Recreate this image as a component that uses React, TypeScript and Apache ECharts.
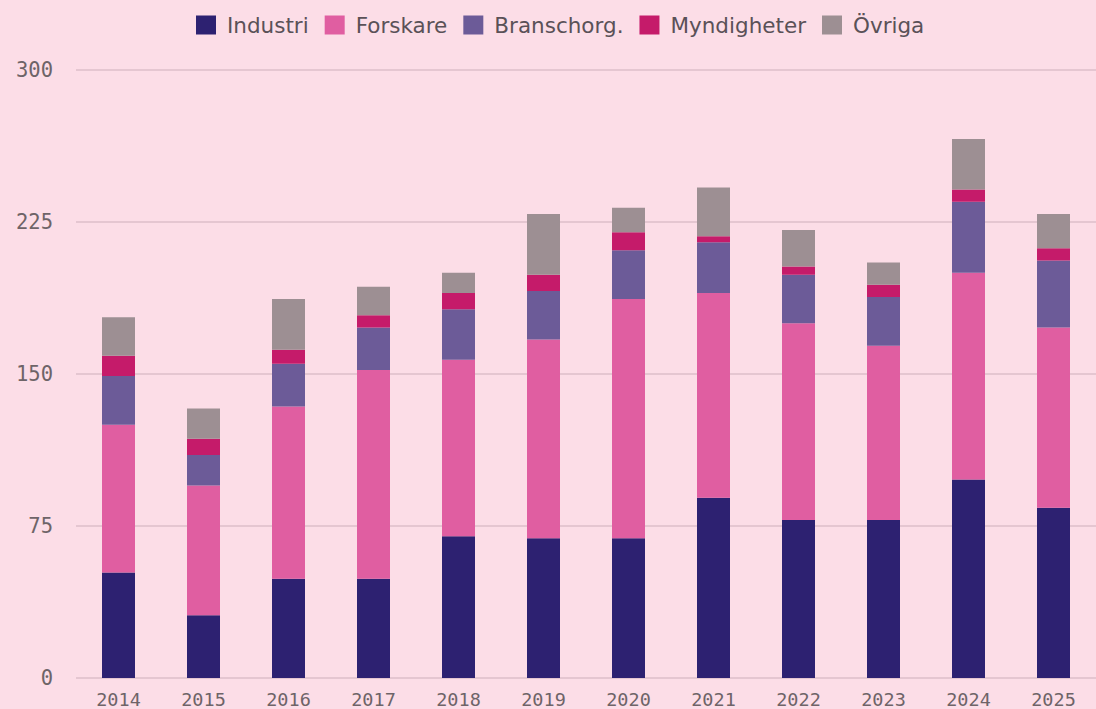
import React, { useEffect, useRef } from "react";
import * as echarts from "echarts";

const years = ["2014", "2015", "2016", "2017", "2018", "2019", "2020", "2021", "2022", "2023", "2024", "2025"];
const industri = [52, 31, 49, 49, 70, 69, 69, 89, 78, 78, 98, 84];
const forskare = [73, 64, 85, 103, 87, 98, 118, 101, 97, 86, 102, 89];
const branschorg = [24, 15, 21, 21, 25, 24, 24, 25, 24, 24, 35, 33];
const myndigheter = [10, 8, 7, 6, 8, 8, 9, 3, 4, 6, 6, 6];
const ovriga = [19, 15, 25, 14, 10, 30, 12, 24, 18, 11, 25, 17];
const yTicks = [0, 75, 150, 225, 300];

const seriesDefs = [
  { name: "Industri", data: industri, color: "#2d2171" },
  { name: "Forskare", data: forskare, color: "#e05ea1" },
  { name: "Branschorg.", data: branschorg, color: "#6c5b98" },
  { name: "Myndigheter", data: myndigheter, color: "#c51b6a" },
  { name: "Övriga", data: ovriga, color: "#9d8f93" },
];

export default function App() {
  const ref = useRef<HTMLDivElement>(null);
  useEffect(() => {
    document.body.style.margin = "0";
    const chart = echarts.init(ref.current!, null, { renderer: "svg" });
    chart.setOption({
      animation: false,
      backgroundColor: "#fcdde7",
      legend: {
        top: 9,
        left: 191,
        itemWidth: 20,
        itemHeight: 19,
        itemGap: 16,
        icon: "rect",
        textStyle: { fontFamily: "DejaVu Sans", fontSize: 21.5, color: "#5a5157", padding: [0, 0, 0, 6] },
        data: seriesDefs.map((s) => s.name),
      },
      grid: { left: 76, right: -8, top: 70, bottom: 30 },
      xAxis: {
        type: "category",
        data: years,
        axisLine: { show: false },
        axisTick: { show: false },
        axisLabel: { fontFamily: "DejaVu Sans Mono", fontSize: 18.5, color: "#6e6468", margin: 12 },
      },
      yAxis: {
        type: "value",
        min: yTicks[0],
        max: yTicks[yTicks.length - 1],
        interval: 75,
        axisLine: { show: false },
        axisTick: { show: false },
        splitLine: { lineStyle: { color: "#e5c6d1", width: 2 } },
        axisLabel: { fontFamily: "DejaVu Sans Mono", fontSize: 20.5, color: "#6e6468", margin: 23 },
      },
      series: seriesDefs.map((s) => ({
        name: s.name,
        type: "bar",
        stack: "total",
        barWidth: 33,
        data: s.data,
        itemStyle: { color: s.color },
      })),
    });
    return () => chart.dispose();
  }, []);
  return <div ref={ref} style={{ position: "fixed", left: 0, top: 0, width: 1096, height: 709 }} />;
}
